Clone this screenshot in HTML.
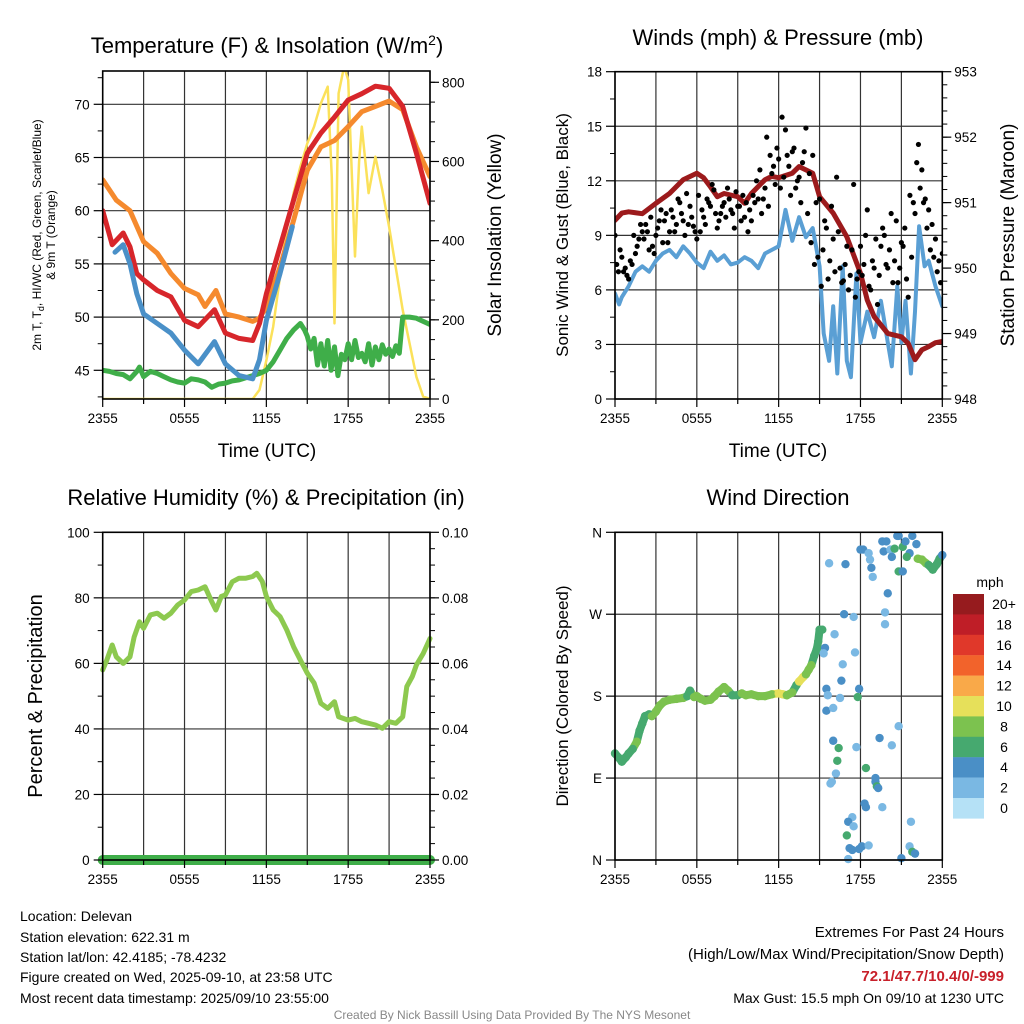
<!DOCTYPE html>
<html><head><meta charset="utf-8"><style>
html,body{margin:0;padding:0;background:#fff}
svg{display:block;font-family:"Liberation Sans",sans-serif}
</style></head><body>
<svg id="chart" width="1024" height="1024" viewBox="0 0 1024 1024" xmlns="http://www.w3.org/2000/svg">
<defs>
<clipPath id="c1"><rect x="102.7" y="71" width="327.3" height="328"/></clipPath>
<clipPath id="c2"><rect x="615" y="71.7" width="327.3" height="327.3"/></clipPath>
<clipPath id="c3"><rect x="96" y="526" width="341" height="342"/></clipPath>
<clipPath id="c4"><rect x="609" y="526" width="340" height="342"/></clipPath>
</defs>
<g id="grids"></g>
<g id="marks"></g>
<g id="axes"></g>
<text x="267" y="53" font-size="22" text-anchor="middle">Temperature (F) &amp; Insolation (W/m<tspan dy="-8" font-size="14">2</tspan><tspan dy="8">)</tspan></text>
<text transform="translate(41,235) rotate(-90)" font-size="12" text-anchor="middle">2m T, T<tspan dy="3" font-size="9">d</tspan><tspan dy="-3">, HI/WC (Red, Green, Scarlet/Blue)</tspan></text>
<text transform="translate(55,235) rotate(-90)" font-size="12" text-anchor="middle">&amp; 9m T (Orange)</text>
<text transform="translate(501,235) rotate(-90)" font-size="19" text-anchor="middle">Solar Insolation (Yellow)</text>
<text x="267" y="457" font-size="19" text-anchor="middle">Time (UTC)</text>
<text x="778" y="45" font-size="22" text-anchor="middle">Winds (mph) &amp; Pressure (mb)</text>
<text transform="translate(568,235) rotate(-90)" font-size="17" text-anchor="middle">Sonic Wind &amp; Gust (Blue, Black)</text>
<text transform="translate(1014,235) rotate(-90)" font-size="19" text-anchor="middle">Station Pressure (Maroon)</text>
<text x="778" y="457" font-size="19" text-anchor="middle">Time (UTC)</text>
<text x="266" y="505" font-size="22" text-anchor="middle">Relative Humidity (%) &amp; Precipitation (in)</text>
<text transform="translate(42,696) rotate(-90)" font-size="20" text-anchor="middle">Percent &amp; Precipitation</text>
<text x="778" y="505" font-size="22" text-anchor="middle">Wind Direction</text>
<text transform="translate(568,696) rotate(-90)" font-size="17" text-anchor="middle">Direction (Colored By Speed)</text>
<text x="990" y="587" font-size="14" text-anchor="middle">mph</text>
<g id="colorbar"></g>
<g font-size="14">
<text x="20" y="921">Location: Delevan</text>
<text x="20" y="942">Station elevation: 622.31 m</text>
<text x="20" y="962">Station lat/lon: 42.4185; -78.4232</text>
<text x="20" y="982">Figure created on Wed, 2025-09-10, at 23:58 UTC</text>
<text x="20" y="1003">Most recent data timestamp: 2025/09/10 23:55:00</text>
</g>
<g text-anchor="end">
<text x="1004" y="937" font-size="15">Extremes For Past 24 Hours</text>
<text x="1004" y="959" font-size="15">(High/Low/Max Wind/Precipitation/Snow Depth)</text>
<text x="1004" y="981" font-size="15" font-weight="bold" fill="#c8202a">72.1/47.7/10.4/0/-999</text>
<text x="1004" y="1003" font-size="14">Max Gust: 15.5 mph On 09/10 at 1230 UTC</text>
</g>
<text x="512" y="1019" font-size="12" fill="#888" text-anchor="middle">Created By Nick Bassill Using Data Provided By The NYS Mesonet</text>
</svg>
<script>
// ---------- DATA ----------
const xTickLabels = ["2355","0555","1155","1755","2355"];
const tempTicks = [45,50,55,60,65,70];
const solarTicks = [0,200,400,600,800];
const windTicks = [0,3,6,9,12,15,18];
const presTicks = [948,949,950,951,952,953];
const rhTicks = [0,20,40,60,80,100];
const precipTicks = ["0.00","0.02","0.04","0.06","0.08","0.10"];
const dirTicks = ["N","E","S","W","N"];
const speedLabels = ["20+","18","16","14","12","10","8","6","4","2","0"];
const speedColors = ["#961b1e","#bf1e27","#e0382a","#f2632b","#f9a949","#e6e05a","#7cc24f","#46a96f","#4a8fc6","#7ab8e3","#b5e1f6"];

const orangeT = [0,1,2,3,4,5,6,7,7.5,8.3,9,10,11,11.5,12,13,14,15,16,17,18,19,20,21,22,23,24];
const orangeV = [62.9,61,60,57.1,56,54.1,52.7,52.1,51,52.5,50.3,50,49.6,49.9,51,54.7,59.1,63.8,66,66.6,67.9,69.3,69.8,70.3,69.5,66,63.2];
const redT = [0,0.7,1.5,2,2.5,3,4,5,6,7,8.2,9,10,11,11.5,12,13,14,15,16,17,18,19,20,21,22,23,24];
const redV = [60,56.8,57.9,56.6,54.1,53.5,52.5,51.9,49.7,49.1,50.7,48.5,48,47.8,49.4,52.2,56.6,61,65.4,67.3,68.8,70.4,71,71.7,71.5,69.8,65.4,60.7];
const blueT = [0.9,1.5,2,2.5,3,4,5,6,7,8.2,9,10,11,11.5,12,13,13.9];
const blueV = [56.1,56.8,55,52.2,50.3,49.4,48.5,46.9,45.6,47.7,45.6,44.5,44.2,46,49.7,54.1,58.5];
const greenT = [0,0.5,1,1.5,2,2.5,2.7,3,3.5,4,4.5,5,5.5,6,6.5,7,7.5,8,8.5,9,9.5,10,10.5,11,11.5,12,12.5,13,13.5,14,14.5,14.8,15,15.25,15.5,15.75,16,16.25,16.5,16.75,17,17.25,17.5,17.75,18,18.25,18.5,18.75,19,19.25,19.5,19.75,20,20.25,20.5,20.75,21,21.25,21.5,21.75,22,22.5,23,23.5,24];
const greenV = [45,44.9,44.7,44.6,44.2,44.9,45.3,44.4,44.9,44.7,44.4,44.1,43.9,43.8,44.2,44.1,43.9,43.4,43.7,43.8,44,44.1,44.3,44.5,44.7,45,45.8,46.9,48,48.8,49.4,48.8,48.2,47,48,45.5,47.5,45.4,47.8,45,47.2,44.5,46.5,46,47.5,46,47.8,46.2,46.6,45.8,47.5,45.5,47.2,46,47.4,46.5,47,46.3,47.3,46.6,50,50,49.9,49.6,49.3];
const solarT = [0,11,11.5,12,12.5,13,13.5,14,14.5,15,15.5,16,16.5,16.8,17,17.3,17.7,18,18.5,18.8,19,19.5,20,20.5,21,22,23,23.5,24];
const solarV = [0,0,23,98,183,309,435,520,587,646,688,747,789,560,191,772,840,806,360,600,688,520,612,528,435,225,56,6,0];

const presT = [0,0.5,1,2,3,4,5,6,6.5,7,7.5,8,9,9.5,10,11,11.5,12,13,13.5,14,14.5,15,16,17,18,18.5,19,20,21,21.5,22,22.5,23,23.5,24];
const presV = [950.73,950.84,950.86,950.83,950.99,951.14,951.35,951.45,951.38,951.24,951.09,951.14,951.09,950.99,951.14,951.35,951.4,951.38,951.45,951.55,951.5,951.45,951.09,950.84,950.48,949.92,949.51,949.26,949.0,948.95,948.85,948.6,948.75,948.8,948.86,948.88];
const windT = [0,0.3,0.5,1,1.5,2,2.5,3,3.5,4,4.5,5,5.5,6,6.5,7,7.5,8,8.5,9,9.5,10,10.5,11,11.5,12,12.5,13,13.5,14,14.5,15,15.3,15.7,16,16.3,16.7,17,17.3,17.7,18,18.5,19,19.5,20,20.3,20.7,21,21.3,21.7,22,22.3,22.7,23,23.5,24];
const windV = [5.8,5.2,5.6,6.2,7.0,7.3,7.0,7.6,8.0,8.2,7.8,8.4,8.0,7.5,7.2,8.1,7.6,7.9,7.4,7.5,7.8,7.6,7.2,8.0,8.2,8.4,10.4,8.7,10.0,8.9,9.4,7.3,3.6,2.1,5.1,1.4,7.3,2.1,1.2,6.9,3.1,4.8,3.4,5.4,3.1,1.8,6.2,3.1,5.4,1.4,4.8,9.5,7.3,7.6,6.2,5.1];
const gustA = [9.0,7.0,7.8,7.2,6.6,7.4,8.0,8.8,9.2,9.6,8.2,8.4,9.0,9.8,8.6,10.2,9.2,10.0,9.6,10.8,9.8,11.3,10.6,9.5,8.8,9.2,10.0,11.0,10.6,11.5,9.4,10.2,10.8,11.6,10.4,9.4,10.6,9.8,10.0,9.2,9.8,10.8,11.0,10.2,11.6,10.6,12.4,11.8,13.2,15.5,14.8,12.8,13.6,11.6,12.2,13.0,14.9,12.4,13.4,10.8,11.0,8.2,9.4,7.6,8.8,12.2,7.2,6.5,8.4,6.8,11.8,6.6,8.4,7.4,10.4,6.0,7.2,5.2,8.4,9.0,7.2,10.2,7.6,6.4,8.6,9.4,5.6,7.8,10.2,14.0,12.6,11.0,10.4,9.6,8.8,7.6,8.0,6.8];
const gustB = [7.4,8.2,7.0,6.8,7.6,9.0,8.4,9.6,8.8,9.2,10.0,8.0,9.4,10.4,9.8,8.6,10.4,9.2,11.0,10.2,9.0,9.6,10.0,9.2,11.2,10.4,9.6,10.8,11.8,10.2,9.8,10.6,10.0,11.0,10.2,11.4,10.6,11.2,10.8,10.4,11.2,12.0,12.6,11.0,14.4,13.4,12.8,13.8,11.6,12.2,13.4,11.2,13.8,12.0,10.8,13.6,10.2,8.6,7.4,7.8,6.2,9.8,6.6,10.6,7.0,9.2,6.4,7.4,6.0,8.2,5.6,7.0,6.8,9.0,6.2,7.6,8.8,6.8,9.4,7.4,8.2,6.4,9.8,7.2,8.4,6.6,11.2,10.8,13.0,11.6,10.8,9.4,8.2,7.8,7.0,6.4];

const rhT = [0,0.3,0.7,1,1.5,2,2.3,2.7,3,3.5,4,4.5,5,5.5,6,6.5,7,7.5,8,8.3,8.7,9,9.5,10,10.5,11,11.3,11.7,12,12.5,13,13.5,14,14.5,15,15.5,16,16.5,17,17.3,18,18.5,19,19.5,20,20.5,21,21.5,22,22.3,22.7,23,23.5,24];
const rhV = [58,61,65.6,62,60,62,68,72.7,70.7,74.8,75.3,73.8,75.3,77.8,79.3,81.9,82.4,83.4,78.8,76.3,80.4,80.9,84.9,86,86,86.5,87.5,85,80.4,76.3,74.3,70.2,65.1,61,57,54,47.8,46.3,48.3,43.7,42.7,43.2,42.2,41.7,41.2,40.2,42.2,41.7,43.7,52.9,56,59.5,63,67.6];
const precipT = [0,24];
const precipV = [0,0];

const dirT = [0,0.3,0.5,0.8,1,1.3,1.6,1.8,2,2.2,2.5,2.7,3,3.3,3.6,4,4.5,5,5.3,5.5,5.8,6,6.3,6.6,7,7.3,7.6,8,8.3,8.6,9,9.3,9.6,10,10.5,11,11.5,12,12.3,12.6,13,13.3,13.5,13.8,14,14.2,14.4,14.6,14.8,14.9,15.0];
const dirV = [117,112,108,113,117,122,130,142,150,158,160,158,163,170,174,176,177,178,180,186,179,180,177,175,176,180,185,190,186,181,181,183,181,182,180,180,182,183,182,181,184,192,196,201,204,209,214,224,232,240,253];
const dirS = [6,6,6,6,6,6,8,6,6,6,6,8,8,8,8,8,8,8,6,6,8,8,8,8,8,8,8,8,8,6,6,8,8,8,8,8,8,10,10,8,8,6,10,10,8,8,8,6,6,6,6];
const dir2T = [22.2,22.5,22.8,23,23.3,23.6,23.8,24];
const dir2V = [331,330,326,324,319,325,331,335];
const dir2S = [8,8,8,6,6,6,6,4];
const scatT = [15.7,16.9,18.0,18.2,18.6,18.7,18.8,18.9,19.6,19.9,19.7,20.2,20.3,20.5,20.7,20.8,21.1,21.3,21.6,21.8,22.1,21.4,20.8,21.1,20.0,19.8,19.8,16.8,17.5,15.2,16.1,15.4,15.3,17.6,16.7,16.6,17.9,15.5,15.6,16.5,17.8,15.5,16.0,20.8,16.0,16.4,16.3,17.7,19.4,20.3,18.4,16.2,15.9,15.8,19.1,19.1,19.2,19.3,19.6,18.3,18.4,17.4,17.1,17.5,17.0,17.2,17.4,18.1,18.6,17.9,17.1,21.0,21.7,21.6,21.8,22.0];
const scatV = [326,325,341,341,337,330,321,311,350,350,339,341,333,342,356,356,344,350,337,356,347,333,317,317,293,272,259,270,267,253,248,233,227,228,215,197,188,188,181,178,179,164,167,147,131,123,109,124,134,126,101,95,86,84,90,86,81,79,58,62,58,47,42,37,27,13,11,15,16,12,1,2,42,15,9,7];
const scatS = [2,4,4,4,2,2,4,2,4,4,4,2,4,6,4,4,6,4,4,4,4,6,6,4,4,2,2,4,2,6,2,4,2,2,2,4,4,4,2,2,6,4,1,2,4,6,6,2,4,2,6,2,2,2,4,4,6,4,2,4,4,2,4,1,6,4,4,4,2,4,2,4,1,2,6,4];

// ---------- HELPERS ----------
const NS = "http://www.w3.org/2000/svg";
const svg = document.getElementById('chart');
const gG = document.getElementById('grids');
const gM = document.getElementById('marks');
const gA = document.getElementById('axes');
function mk(tag, attrs, parent){ const e=document.createElementNS(NS,tag); for(const k in attrs) e.setAttribute(k,attrs[k]); parent.appendChild(e); return e; }
function lin(d0,d1,r0,r1){ return v => r0+(v-d0)*(r1-r0)/(d1-d0); }

const P = {
  p1:{x0:102.7,x1:430,y0:71,y1:399},
  p2:{x0:615,x1:942.3,y0:71.7,y1:399},
  p3:{x0:102.7,x1:430,y0:532.3,y1:860},
  p4:{x0:615,x1:942.3,y0:532.3,y1:860}
};
const xs = {}; for(const k in P){ xs[k]=lin(0,24,P[k].x0,P[k].x1); }
const yTemp = lin(45,70,370.3,104.3);
const ySolar = lin(0,800,399,82.3);
const yWind = lin(0,18,399,71.7);
const yPres = lin(948,953,399,71.7);
const yRH = lin(0,100,860,532.3);
const yPrecip = lin(0,0.1,860,532.3);
const yDir = lin(0,360,860,532.3);

function frame(p, yl, yr, leftTicks, leftLabels, rightTicks, rightLabels, leftMinor, rightMinor, key){
  const b=P[p];
  // vertical grid every 3h
  for(let h=0;h<=24;h+=3){
    const x=xs[p](h);
    const l=mk('line',{x1:x,x2:x,y1:b.y0,y2:b.y1,stroke:'#333','stroke-width':1.2},gG);
    
    
    const t=mk('line',{x1:x,x2:x,y1:b.y1,y2:b.y1+(h%6===0?8:5),stroke:'#000','stroke-width':1.2},gA);
    
    
  }
  for(let i=0;i<xTickLabels.length;i++){
    const tx=mk('text',{x:xs[p](i*6),y:b.y1+24,'font-size':13.5,'text-anchor':'middle'},gA);
    tx.textContent=xTickLabels[i];
    
    
  }
  for(let i=0;i<leftTicks.length;i++){
    const y=yl(leftTicks[i]);
    const g=mk('line',{x1:b.x0,x2:b.x1,y1:y,y2:y,stroke:'#333','stroke-width':1.2},gG);
    
    
    const t=mk('line',{x1:b.x0-9,x2:b.x0,y1:y,y2:y,stroke:'#000','stroke-width':1.2},gA);
    
    
    const tx=mk('text',{x:b.x0-13,y:y+5,'font-size':13.5,'text-anchor':'end'},gA);
    tx.textContent=leftLabels[i];
    
    
  }
  for(const v of leftMinor){
    const t=mk('line',{x1:b.x0-5,x2:b.x0,y1:yl(v),y2:yl(v),stroke:'#000','stroke-width':1},gA);
    
    
  }
  if(yr){
    for(let i=0;i<rightTicks.length;i++){
      const y=yr(rightTicks[i]);
      const t=mk('line',{x1:b.x1,x2:b.x1+9,y1:y,y2:y,stroke:'#000','stroke-width':1.2},gA);
      
      
      const tx=mk('text',{x:b.x1+12,y:y+5,'font-size':13.5},gA);
      tx.textContent=rightLabels[i];
      
      
    }
    for(const v of rightMinor){
      const t=mk('line',{x1:b.x1,x2:b.x1+5,y1:yr(v),y2:yr(v),stroke:'#000','stroke-width':1},gA);
      
      
    }
  }
  const f=mk('rect',{x:b.x0,y:b.y0,width:b.x1-b.x0,height:b.y1-b.y0,fill:'none',stroke:'#000','stroke-width':1.6},gA);
  
  
}
function range(a,b,s){ const r=[]; for(let v=a;v<=b+1e-9;v+=s) r.push(+v.toFixed(4)); return r; }

frame('p1',yTemp,ySolar,tempTicks,tempTicks.map(String),solarTicks,solarTicks.map(String),range(42.5,72.5,5),range(50,800,50),'temperature');
frame('p2',yWind,yPres,windTicks,windTicks.map(String),presTicks,presTicks.map(String),range(1.5,16.5,3),range(948.2,952.8,0.2),'winds');
frame('p3',yRH,yPrecip,rhTicks,rhTicks.map(String),[0,0.02,0.04,0.06,0.08,0.1],precipTicks,range(10,90,20),range(0.005,0.095,0.005),'humidity');
frame('p4',yDir,null,[0,90,180,270,360],dirTicks,[],[],[],[],'direction');

function line(p, T, V, ys, color, w, clip, name){
  const pts=T.map((t,i)=>xs[p](t).toFixed(1)+','+ys(V[i]).toFixed(1)).join(' ');
  const e=mk('polyline',{points:pts,fill:'none',stroke:color,'stroke-width':w,'stroke-linejoin':'round','stroke-linecap':'round','clip-path':'url(#'+clip+')'},gM);
  
  
}
// Panel 1
line('p1',solarT,solarV,ySolar,'#fbe15a',2.5,'c1','solar-insolation-line');
line('p1',greenT,greenV,yTemp,'#3fae49',5,'c1','dewpoint-line');
line('p1',orangeT,orangeV,yTemp,'#f58a2e',5,'c1','temp-9m-line');
line('p1',redT,redV,yTemp,'#d7262b',5,'c1','temp-2m-line');
line('p1',blueT,blueV,yTemp,'#4a90c8',5,'c1','windchill-line');
// Panel 2
line('p2',windT,windV,yWind,'#5a9fd4',4,'c2','sonic-wind-line');
line('p2',presT,presV,yPres,'#9c1a1c',5,'c2','pressure-line');
gustA.forEach((v,i)=>{
  const c=mk('circle',{cx:xs.p2(i*0.25),cy:yWind(v),r:2.6,fill:'#000','clip-path':'url(#c2)'},gM);
  
  
});
gustB.forEach((v,i)=>{
  const c=mk('circle',{cx:xs.p2(i*0.25+0.125),cy:yWind(v),r:2.6,fill:'#000','clip-path':'url(#c2)'},gM);
  
  
});
// Panel 3
line('p3',rhT,rhV,yRH,'#8dc94f',5,'c3','relative-humidity-line');
line('p3',precipT,precipV,yPrecip,'#3fae49',10,'c3','precipitation-line');
// Panel 4
function spdColor(s){ const bin=Math.min(10,Math.floor((s+1)/2)); return speedColors[10-bin]; }
function dirSeries(T,V,S,name){
  for(let i=1;i<T.length;i++){
    const s=mk('line',{x1:xs.p4(T[i-1]),y1:yDir(V[i-1]),x2:xs.p4(T[i]),y2:yDir(V[i]),stroke:spdColor(S[i]),'stroke-width':8,'stroke-linecap':'round','clip-path':'url(#c4)'},gM);
    
    
  }
  for(let i=0;i<T.length;i++){
    const c=mk('circle',{cx:xs.p4(T[i]),cy:yDir(V[i]),r:4.2,fill:spdColor(S[i]),'clip-path':'url(#c4)'},gM);
    
    
  }
}
dirSeries(dirT,dirV,dirS,'wind-direction');
dirSeries(dir2T,dir2V,dir2S,'wind-direction-late');
scatT.forEach((t,i)=>{
  const c=mk('circle',{cx:xs.p4(t),cy:yDir(scatV[i]),r:4.2,fill:spdColor(scatS[i]),'clip-path':'url(#c4)'},gM);
  
  
});
// colorbar
const cb=document.getElementById('colorbar');
speedLabels.forEach((lab,i)=>{
  const r=mk('rect',{x:953,y:594+i*20.4,width:31,height:20.6,fill:speedColors[i]},cb);
  
  
  const t=mk('text',{x:1004,y:594+i*20.4+15,'font-size':14,'text-anchor':'middle'},cb);
  t.textContent=lab;
  
  
});
</script>
</body></html>
